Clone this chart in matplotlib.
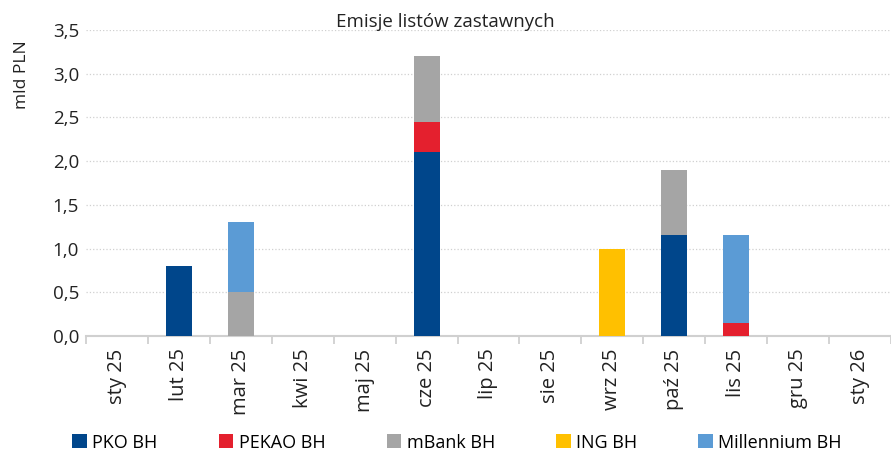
import numpy as np
import matplotlib
matplotlib.use('Agg')
import matplotlib.pyplot as plt

plt.rcParams['font.family'] = ['Open Sans', 'DejaVu Sans']

months = ['sty 25', 'lut 25', 'mar 25', 'kwi 25', 'maj 25', 'cze 25', 'lip 25',
          'sie 25', 'wrz 25', 'paź 25', 'lis 25', 'gru 25', 'sty 26']
pko = [0, 0.8, 0, 0, 0, 2.1, 0, 0, 0, 1.15, 0, 0, 0]
pekao = [0, 0, 0, 0, 0, 0.35, 0, 0, 0, 0, 0.15, 0, 0]
mbank = [0, 0, 0.5, 0, 0, 0.75, 0, 0, 0, 0.75, 0, 0, 0]
ing = [0, 0, 0, 0, 0, 0, 0, 0, 1.0, 0, 0, 0, 0]
millennium = [0, 0, 0.8, 0, 0, 0, 0, 0, 0, 0, 1.0, 0, 0]

series = [('PKO BH', pko, '#00468b'),
          ('PEKAO BH', pekao, '#e4202e'),
          ('mBank BH', mbank, '#a5a5a5'),
          ('ING BH', ing, '#ffc000'),
          ('Millennium BH', millennium, '#5b9bd5')]

fig = plt.figure(figsize=(8.91, 4.54), dpi=100)
ax = fig.add_axes([0.0965, 0.26, 0.9035, 0.674])

x = np.arange(len(months))
bottom = np.zeros(len(months))
for name, vals, col in series:
    vals = np.array(vals)
    ax.bar(x, vals, 0.42, bottom=bottom, color=col, label=name, zorder=3)
    bottom += vals

ax.set_xlim(-0.5, len(months) - 0.5)
ax.set_ylim(0, 3.5)
ax.set_yticks(np.arange(0, 3.51, 0.5))
ax.set_yticklabels([f'{v:.1f}'.replace('.', ',') for v in np.arange(0, 3.51, 0.5)],
                   fontsize=13.5, color='#222222')
ax.tick_params(axis='y', length=0, pad=5)
ax.grid(axis='y', linestyle=':', color='#d0d0d0', linewidth=0.9, zorder=0)

ax.set_xticks(x)
ax.set_xticklabels(months, rotation=90, fontsize=14.5, color='#222222')
ax.set_xticks(np.arange(-0.5, len(months)), minor=True)
ax.tick_params(axis='x', which='major', length=0, pad=9)
ax.tick_params(axis='x', which='minor', length=6, width=1.3, color='#d0d0d0', direction='out')

for s in ['top', 'right', 'left']:
    ax.spines[s].set_visible(False)
ax.spines['bottom'].set_color('#d0d0d0')
ax.spines['bottom'].set_linewidth(1.5)

fig.text(0.5, 0.952, 'Emisje listów zastawnych', ha='center', va='center', fontsize=13.5, color='#222222')
fig.text(0.025, 0.835, 'mld PLN', rotation=90, ha='center', va='center', fontsize=12.5, color='#222222')

fig.legend(loc='center', bbox_to_anchor=(0.063, 0.005, 0.9, 0.04), mode='expand', ncol=5,
           frameon=False, fontsize=13, handlelength=0.8, handleheight=0.8, handletextpad=0.3)

plt.savefig('out.png', dpi=100)
